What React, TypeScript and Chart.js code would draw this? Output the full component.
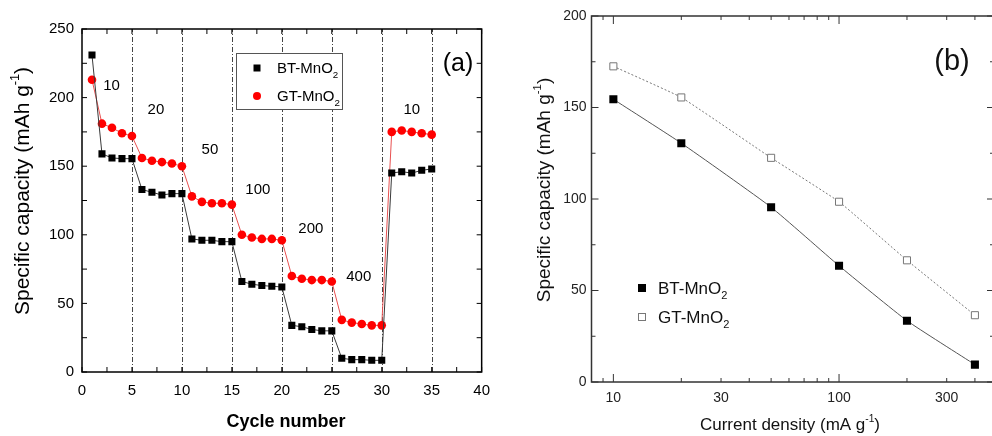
import React, { useEffect, useRef } from 'react';
import { Chart, registerables } from 'chart.js';

Chart.register(...registerables);

const FONT = '"Liberation Sans", Arial, Helvetica, sans-serif';

// ---------- Panel (a): rate capability vs cycle ----------
const cycles = [1, 2, 3, 4, 5, 6, 7, 8, 9, 10, 11, 12, 13, 14, 15, 16, 17, 18, 19, 20, 21, 22, 23, 24, 25, 26, 27, 28, 29, 30, 31, 32, 33, 34, 35];
const btCapacityA = [231, 159, 156, 155.5, 155.5, 133, 131, 129, 130, 130, 97, 96, 96, 95, 95, 66, 64, 63, 62.5, 62, 34, 33, 31, 30, 30, 10, 9, 9, 8.5, 8.5, 145, 146, 145, 147, 148];
const gtCapacityA = [213, 181, 178, 174, 172, 156, 154, 153, 152, 150, 128, 124, 123, 123, 122, 100, 98, 97, 97, 96, 70, 68, 67, 67, 66, 38, 36, 35, 34, 34, 175, 176, 175, 174, 173];
const rateLabels = ['10', '20', '50', '100', '200', '400', '10'];
const rateLabelCycle = [2.95, 7.4, 12.8, 17.6, 22.9, 27.7, 33.0];
const rateLabelCapacity = [208.5, 191, 162, 133, 104, 69, 191];
const stepBoundaries = [5, 10, 15, 20, 25, 30, 35];

// ---------- Panel (b): capacity vs current density ----------
const currentDensity = [10, 20, 50, 100, 200, 400];
const btCapacityB = [154.5, 130.5, 95.5, 63.5, 33.5, 9.5];
const gtCapacityB = [172.5, 155.5, 122.5, 98.5, 66.5, 36.5];
const xTickLabelsB = [10, 30, 100, 300];
const xMajorTicksB = [10, 100];
const xMinorTicksB = [9, 20, 30, 40, 50, 60, 70, 80, 90, 200, 300, 400];

type Seg = { t: string; size: number; rise: number; weight?: string };

function segsWidth(ctx: CanvasRenderingContext2D, segs: Seg[]) {
  let w = 0;
  for (const s of segs) {
    ctx.font = `${s.weight || 'normal'} ${s.size}px ${FONT}`;
    w += ctx.measureText(s.t).width;
  }
  return w;
}

function drawSegs(ctx: CanvasRenderingContext2D, segs: Seg[], x: number, baseY: number, align: 'left' | 'center', color: string) {
  const w = segsWidth(ctx, segs);
  let cx = align === 'center' ? x - w / 2 : x;
  ctx.textBaseline = 'alphabetic';
  ctx.textAlign = 'left';
  ctx.fillStyle = color;
  for (const s of segs) {
    ctx.font = `${s.weight || 'normal'} ${s.size}px ${FONT}`;
    ctx.fillText(s.t, cx, baseY - s.rise);
    cx += ctx.measureText(s.t).width;
  }
}

function unitSegs(prefix: string, unit: string, size: number, weight?: string): Seg[] {
  return [
    { t: prefix + ' (' + unit + ' g', size, rise: 0, weight },
    { t: '-1', size: size * 0.6, rise: size * 0.45, weight },
    { t: ')', size, rise: 0, weight },
  ];
}

function mno2Segs(name: string, size: number): Seg[] {
  return [
    { t: name + '-MnO', size, rise: 0 },
    { t: '2', size: size * 0.65, rise: -size * 0.3 },
  ];
}

function drawFrameAndTicks(
  chart: any,
  color: string,
  width: number,
  xTicks: { v: number; len: number }[],
  yTicks: { v: number; len: number }[]
) {
  const { ctx, chartArea } = chart;
  const xs = chart.scales.x;
  const ys = chart.scales.y;
  const { left, right, top, bottom } = chartArea;
  ctx.save();
  ctx.strokeStyle = color;
  ctx.lineWidth = 1;
  ctx.beginPath();
  for (const t of xTicks) {
    const px = xs.getPixelForValue(t.v);
    if (px < left - 0.5 || px > right + 0.5) continue;
    ctx.moveTo(px, bottom);
    ctx.lineTo(px, bottom - t.len);
    ctx.moveTo(px, top);
    ctx.lineTo(px, top + t.len);
  }
  for (const t of yTicks) {
    const py = ys.getPixelForValue(t.v);
    ctx.moveTo(left, py);
    ctx.lineTo(left + t.len, py);
    ctx.moveTo(right, py);
    ctx.lineTo(right - t.len, py);
  }
  ctx.stroke();
  ctx.lineWidth = width;
  ctx.strokeRect(left, top, right - left, bottom - top);
  ctx.restore();
}

function makeConfigA(): any {
  const plugin = {
    id: 'panelA',
    beforeDatasetsDraw(chart: any) {
      const { ctx, chartArea } = chart;
      const xs = chart.scales.x;
      ctx.save();
      ctx.strokeStyle = '#444';
      ctx.lineWidth = 1;
      ctx.setLineDash([5, 2, 1, 2]);
      for (const b of stepBoundaries) {
        const px = Math.round(xs.getPixelForValue(b)) + 0.5;
        ctx.beginPath();
        ctx.moveTo(px, chartArea.bottom);
        ctx.lineTo(px, chartArea.top);
        ctx.stroke();
      }
      ctx.restore();
    },
    afterDraw(chart: any) {
      const { ctx } = chart;
      const xs = chart.scales.x;
      const ys = chart.scales.y;
      const xt: { v: number; len: number }[] = [];
      for (let v = 0; v <= 40; v += 2.5) xt.push({ v, len: 5 });
      const yt: { v: number; len: number }[] = [];
      for (let v = 0; v <= 250; v += 25) yt.push({ v, len: 5 });
      drawFrameAndTicks(chart, '#000', 1.5, xt, yt);

      ctx.save();
      // rate labels
      ctx.fillStyle = '#000';
      ctx.font = `15px ${FONT}`;
      ctx.textAlign = 'center';
      ctx.textBaseline = 'middle';
      rateLabels.forEach((lab, i) => {
        ctx.fillText(lab, xs.getPixelForValue(rateLabelCycle[i]), ys.getPixelForValue(rateLabelCapacity[i]));
      });
      // (a)
      ctx.font = `25px ${FONT}`;
      ctx.fillText('(a)', 458, 64);

      // legend box
      ctx.fillStyle = '#fff';
      ctx.fillRect(236, 53, 106, 56);
      ctx.strokeStyle = '#555';
      ctx.lineWidth = 1;
      ctx.strokeRect(236.5, 53.5, 106, 56);
      ctx.fillStyle = '#000';
      ctx.fillRect(257 - 3.5, 68 - 3.5, 7, 7);
      ctx.fillStyle = '#ff0000';
      ctx.beginPath();
      ctx.arc(257, 96, 4, 0, Math.PI * 2);
      ctx.fill();
      drawSegs(ctx, mno2Segs('BT', 15), 277, 73, 'left', '#000');
      drawSegs(ctx, mno2Segs('GT', 15), 277, 101, 'left', '#000');

      // axis titles
      drawSegs(ctx, [{ t: 'Cycle number', size: 18, rise: 0, weight: 'bold' }], 286, 427, 'center', '#000');
      ctx.translate(28.5, 191);
      ctx.rotate(-Math.PI / 2);
      drawSegs(ctx, unitSegs('Specific capacity', 'mAh', 21), 0, 0, 'center', '#000');
      ctx.restore();
    },
  };

  return {
    type: 'line',
    data: {
      datasets: [
        {
          label: 'BT-MnO2',
          data: cycles.map((c, i) => ({ x: c, y: btCapacityA[i] })),
          borderColor: '#3a3a3a',
          borderWidth: 1,
          pointStyle: 'rect',
          pointRadius: 5,
          pointBackgroundColor: '#000',
          pointBorderColor: '#000',
          pointBorderWidth: 0,
          tension: 0,
        },
        {
          label: 'GT-MnO2',
          data: cycles.map((c, i) => ({ x: c, y: gtCapacityA[i] })),
          borderColor: '#e85050',
          borderWidth: 1,
          pointStyle: 'circle',
          pointRadius: 4.3,
          pointBackgroundColor: '#ff0000',
          pointBorderColor: '#ff0000',
          pointBorderWidth: 0,
          tension: 0,
        },
      ],
    },
    options: {
      animation: false,
      responsive: false,
      devicePixelRatio: 1,
      layout: { padding: { top: 29, right: 11, left: 0, bottom: 0 } },
      plugins: { legend: { display: false }, tooltip: { enabled: false } },
      scales: {
        x: {
          type: 'linear',
          min: 0,
          max: 40,
          ticks: { stepSize: 5, padding: 10, color: '#000', font: { family: FONT, size: 15 }, maxRotation: 0 },
          grid: { display: false, drawTicks: false },
          border: { display: false },
          afterFit: (s: any) => {
            s.height = 64;
          },
        },
        y: {
          type: 'linear',
          min: 0,
          max: 250,
          ticks: { stepSize: 50, padding: 8, color: '#000', font: { family: FONT, size: 15 } },
          grid: { display: false, drawTicks: false },
          border: { display: false },
          afterFit: (s: any) => {
            s.width = 82;
          },
        },
      },
    },
    plugins: [plugin],
  };
}

function makeConfigB(): any {
  const plugin = {
    id: 'panelB',
    afterDraw(chart: any) {
      const { ctx } = chart;
      const xt = [
        ...xMajorTicksB.map((v) => ({ v, len: 8 })),
        ...xMinorTicksB.map((v) => ({ v, len: 4 })),
      ];
      const yt: { v: number; len: number }[] = [];
      for (let v = 0; v <= 200; v += 25) yt.push({ v, len: v % 50 === 0 ? 7 : 4 });
      drawFrameAndTicks(chart, '#333', 1.5, xt, yt);

      ctx.save();
      // (b)
      ctx.fillStyle = '#111';
      ctx.font = `29px ${FONT}`;
      ctx.textAlign = 'center';
      ctx.textBaseline = 'middle';
      ctx.fillText('(b)', 452, 62);

      // legend
      ctx.fillStyle = '#000';
      ctx.fillRect(142 - 4, 288 - 4, 8, 8);
      ctx.strokeStyle = '#777';
      ctx.lineWidth = 1;
      ctx.strokeRect(142 - 3.5, 317 - 3.5, 7, 7);
      drawSegs(ctx, mno2Segs('BT', 17), 158, 294, 'left', '#111');
      drawSegs(ctx, mno2Segs('GT', 17), 158, 323, 'left', '#111');

      // axis titles
      drawSegs(ctx, unitSegs('Current density', 'mA', 17), 290, 430, 'center', '#111');
      ctx.translate(50, 190);
      ctx.rotate(-Math.PI / 2);
      drawSegs(ctx, unitSegs('Specific capacity', 'mAh', 19), 0, 0, 'center', '#111');
      ctx.restore();
    },
  };

  return {
    type: 'line',
    data: {
      datasets: [
        {
          label: 'BT-MnO2',
          data: currentDensity.map((c, i) => ({ x: c, y: btCapacityB[i] })),
          borderColor: '#555',
          borderWidth: 1,
          pointStyle: 'rect',
          pointRadius: 5.7,
          pointBackgroundColor: '#000',
          pointBorderColor: '#000',
          pointBorderWidth: 0,
          tension: 0.15,
        },
        {
          label: 'GT-MnO2',
          data: currentDensity.map((c, i) => ({ x: c, y: gtCapacityB[i] })),
          borderColor: '#777',
          borderWidth: 1,
          borderDash: [2, 2],
          pointStyle: 'rect',
          pointRadius: 5,
          pointBackgroundColor: '#fff',
          pointBorderColor: '#777',
          pointBorderWidth: 1,
          tension: 0.1,
        },
      ],
    },
    options: {
      animation: false,
      responsive: false,
      devicePixelRatio: 1,
      layout: { padding: { top: 16, right: 16, left: 0, bottom: 0 } },
      plugins: { legend: { display: false }, tooltip: { enabled: false } },
      scales: {
        x: {
          type: 'logarithmic',
          min: 8,
          max: 486,
          afterBuildTicks: (s: any) => {
            s.ticks = xTickLabelsB.map((v) => ({ value: v }));
          },
          ticks: {
            padding: 8,
            color: '#222',
            font: { family: FONT, size: 14 },
            maxRotation: 0,
            autoSkip: false,
            callback: (v: any) => String(v),
          },
          grid: { display: false, drawTicks: false },
          border: { display: false },
          afterFit: (s: any) => {
            s.height = 54;
          },
        },
        y: {
          type: 'linear',
          min: 0,
          max: 200,
          ticks: { stepSize: 50, padding: 5, color: '#222', font: { family: FONT, size: 14 } },
          grid: { display: false, drawTicks: false },
          border: { display: false },
          afterFit: (s: any) => {
            s.width = 91.5;
          },
        },
      },
    },
    plugins: [plugin],
  };
}

export default function App() {
  const refA = useRef<HTMLCanvasElement>(null);
  const refB = useRef<HTMLCanvasElement>(null);

  useEffect(() => {
    const a = new Chart(refA.current as HTMLCanvasElement, makeConfigA());
    const b = new Chart(refB.current as HTMLCanvasElement, makeConfigB());
    return () => {
      a.destroy();
      b.destroy();
    };
  }, []);

  return (
    <div style={{ position: 'fixed', left: 0, top: 0, width: 992, height: 436, overflow: 'hidden', background: '#fff' }}>
      <canvas ref={refA} width={500} height={436} style={{ position: 'absolute', left: 0, top: 0, width: 500, height: 436 }} />
      <canvas ref={refB} width={510} height={436} style={{ position: 'absolute', left: 500, top: 0, width: 510, height: 436 }} />
    </div>
  );
}
